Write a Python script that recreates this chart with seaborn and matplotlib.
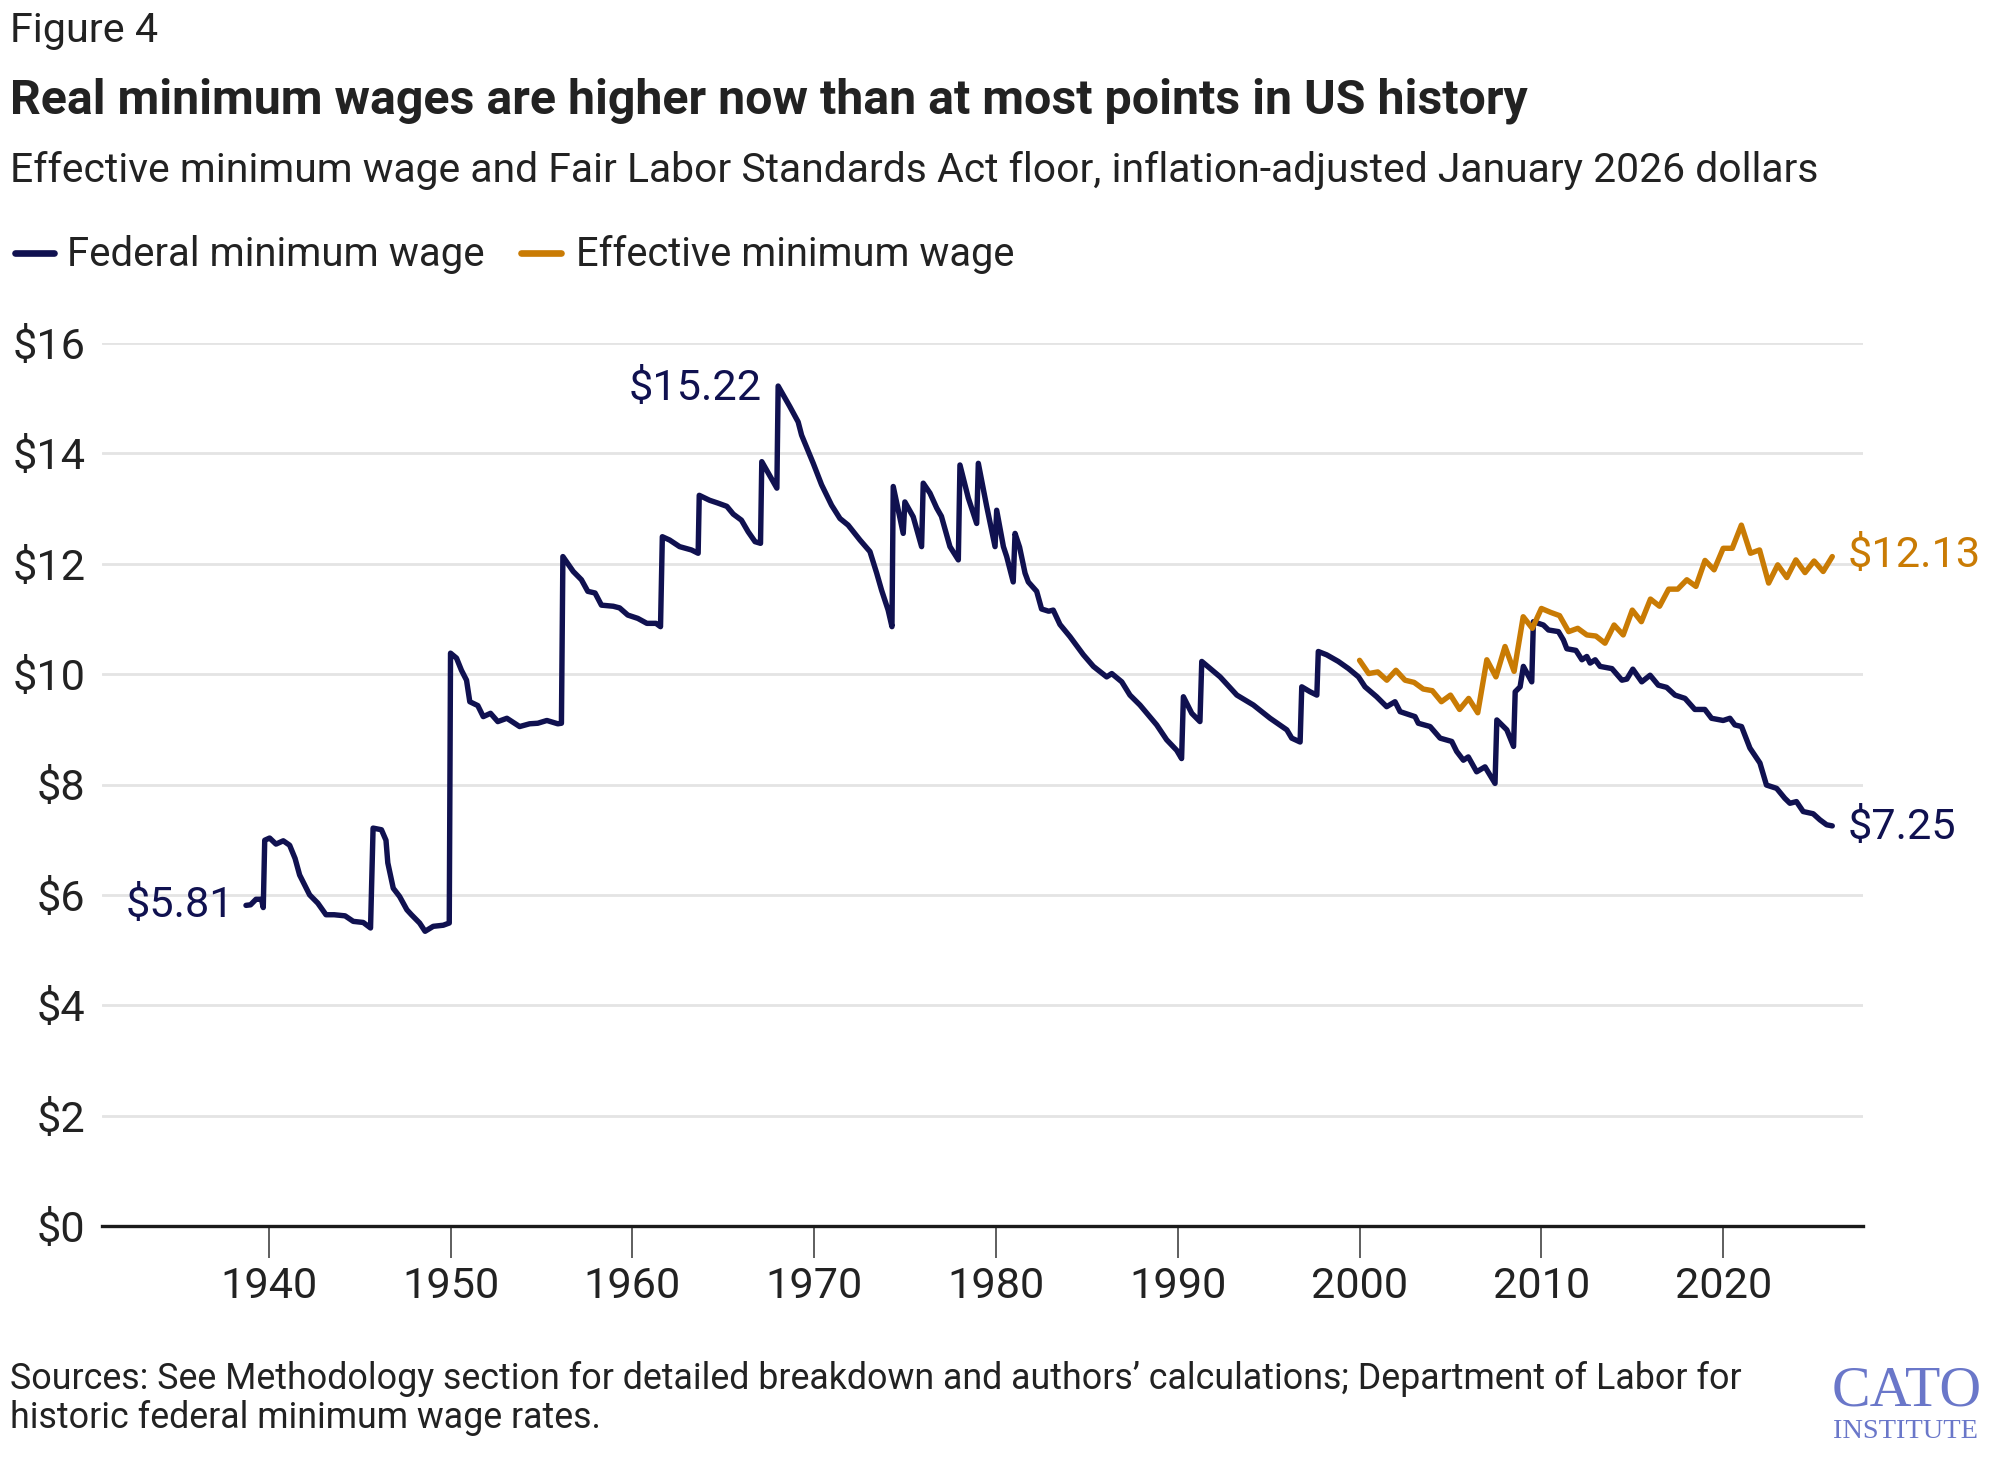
import matplotlib
matplotlib.use("Agg")
import matplotlib.pyplot as plt
from matplotlib.lines import Line2D
import seaborn as sns
import pandas as pd

# ---------------- data ----------------
fed_years = [
    1938.75, 1939.0, 1939.3, 1939.6, 1939.7, 1939.78, 1940.05, 1940.4, 1940.8, 1941.15,
    1941.45, 1941.7, 1942.25, 1942.7, 1943.15, 1943.6, 1944.2, 1944.65, 1945.2, 1945.6,
    1945.74, 1946.2, 1946.45, 1946.55, 1946.85, 1947.2, 1947.6, 1947.85, 1948.15, 1948.3,
    1948.6, 1949.05, 1949.6, 1949.93, 1950.0, 1950.33, 1950.6, 1950.88, 1951.06, 1951.5,
    1951.8, 1952.2, 1952.6, 1953.1, 1953.8, 1954.35, 1954.8, 1955.3, 1955.9, 1956.1,
    1956.18, 1956.75, 1957.2, 1957.55, 1957.95, 1958.3, 1958.95, 1959.3, 1959.75, 1960.3,
    1960.8, 1961.3, 1961.55, 1961.65, 1962.05, 1962.6, 1963.25, 1963.62, 1963.68, 1964.25,
    1964.7, 1965.2, 1965.55, 1966.0, 1966.37, 1966.75, 1967.05, 1967.12, 1967.95, 1968.02,
    1968.66, 1969.12, 1969.31, 1969.95, 1970.41, 1970.96, 1971.42, 1971.87, 1972.52, 1973.07,
    1973.44, 1973.71, 1974.07, 1974.28, 1974.35, 1974.90, 1974.99, 1975.45, 1975.91, 1976.0,
    1976.37, 1976.74, 1977.0, 1977.47, 1977.93, 1978.02, 1978.48, 1978.94, 1979.03, 1979.49,
    1979.95, 1980.04, 1980.41, 1980.59, 1980.95, 1981.05, 1981.3, 1981.6, 1981.78, 1982.24,
    1982.51, 1982.9, 1983.15, 1983.52, 1984.07, 1984.81, 1985.36, 1986.09, 1986.37, 1986.92,
    1987.37, 1987.92, 1988.84, 1989.39, 1989.94, 1990.21, 1990.31, 1990.77, 1991.22, 1991.32,
    1992.33, 1993.25, 1994.16, 1995.08, 1996.0, 1996.27, 1996.73, 1996.82, 1997.28, 1997.65,
    1997.73, 1998.19, 1998.83, 1999.39, 1999.94, 2000.30, 2000.94, 2001.49, 2001.95, 2002.23,
    2003.05, 2003.23, 2003.88, 2004.43, 2005.07, 2005.34, 2005.71, 2005.98, 2006.44, 2006.90,
    2007.45, 2007.55, 2008.10, 2008.47, 2008.56, 2008.83, 2009.01, 2009.47, 2009.56, 2010.11,
    2010.39, 2010.94, 2011.21, 2011.40, 2011.90, 2012.23, 2012.50, 2012.68, 2012.96, 2013.23,
    2013.88, 2014.43, 2014.70, 2015.03, 2015.52, 2015.98, 2016.43, 2016.89, 2017.35, 2017.90,
    2018.44, 2018.99, 2019.36, 2020.0, 2020.37, 2020.64, 2021.01, 2021.47, 2022.02, 2022.38,
    2022.94, 2023.39, 2023.67, 2024.03, 2024.40, 2024.95, 2025.32, 2025.69, 2026.0,
]
fed_values = [
    5.81, 5.82, 5.92, 5.92, 5.77, 6.99, 7.03, 6.92, 6.98, 6.90,
    6.66, 6.36, 6.00, 5.85, 5.64, 5.64, 5.62, 5.52, 5.50, 5.40,
    7.21, 7.18, 6.99, 6.58, 6.12, 5.97, 5.73, 5.64, 5.54, 5.49,
    5.34, 5.43, 5.45, 5.49, 10.38, 10.29, 10.07, 9.89, 9.50, 9.43,
    9.23, 9.29, 9.14, 9.20, 9.05, 9.10, 9.11, 9.16, 9.10, 9.11,
    12.13, 11.86, 11.71, 11.50, 11.47, 11.25, 11.23, 11.20, 11.07, 11.01,
    10.92, 10.92, 10.86, 12.49, 12.43, 12.31, 12.25, 12.19, 13.24, 13.15,
    13.10, 13.04, 12.90, 12.79, 12.58, 12.40, 12.37, 13.85, 13.37, 15.22,
    14.85, 14.57, 14.33, 13.82, 13.43, 13.06, 12.82, 12.70, 12.43, 12.22,
    11.83, 11.52, 11.16, 10.86, 13.40, 12.55, 13.12, 12.85, 12.31, 13.46,
    13.28, 13.01, 12.86, 12.31, 12.07, 13.79, 13.19, 12.73, 13.82, 13.04,
    12.31, 12.97, 12.31, 12.13, 11.67, 12.55, 12.30, 11.83, 11.67, 11.50,
    11.18, 11.14, 11.16, 10.90, 10.68, 10.35, 10.14, 9.95, 10.01, 9.86,
    9.62, 9.44, 9.08, 8.81, 8.62, 8.47, 9.59, 9.29, 9.14, 10.23,
    9.95, 9.62, 9.44, 9.20, 8.99, 8.84, 8.77, 9.77, 9.68, 9.62,
    10.41, 10.35, 10.23, 10.10, 9.95, 9.77, 9.59, 9.41, 9.50, 9.32,
    9.23, 9.11, 9.05, 8.84, 8.78, 8.60, 8.44, 8.50, 8.23, 8.32,
    8.02, 9.17, 8.99, 8.69, 9.68, 9.77, 10.14, 9.86, 10.95, 10.89,
    10.80, 10.77, 10.62, 10.46, 10.43, 10.26, 10.32, 10.20, 10.26, 10.14,
    10.10, 9.89, 9.91, 10.09, 9.86, 9.98, 9.80, 9.76, 9.62, 9.56,
    9.36, 9.36, 9.20, 9.16, 9.20, 9.08, 9.05, 8.66, 8.39, 7.99,
    7.93, 7.75, 7.66, 7.69, 7.51, 7.47, 7.36, 7.27, 7.25,
]
eff_years = [
    2000.0, 2000.5, 2001.0, 2001.5, 2002.0, 2002.5, 2003.0, 2003.5, 2004.0, 2004.5,
    2005.0, 2005.5, 2006.0, 2006.5, 2007.0, 2007.5, 2008.0, 2008.5, 2009.0, 2009.5,
    2010.0, 2010.5, 2011.0, 2011.5, 2012.0, 2012.5, 2013.0, 2013.5, 2014.0, 2014.5,
    2015.0, 2015.5, 2016.0, 2016.5, 2017.0, 2017.5, 2018.0, 2018.5, 2019.0, 2019.5,
    2020.0, 2020.5, 2021.0, 2021.5, 2022.0, 2022.5, 2023.0, 2023.5, 2024.0, 2024.5,
    2025.0, 2025.5, 2026.0,
]
eff_values = [
    10.25, 10.01, 10.04, 9.89, 10.07, 9.89, 9.85, 9.73, 9.70, 9.50,
    9.62, 9.36, 9.56, 9.30, 10.26, 9.95, 10.50, 10.05, 11.04, 10.83,
    11.19, 11.12, 11.06, 10.77, 10.83, 10.71, 10.69, 10.56, 10.89, 10.71,
    11.16, 10.95, 11.36, 11.23, 11.54, 11.54, 11.71, 11.59, 12.06, 11.89,
    12.28, 12.28, 12.70, 12.19, 12.25, 11.65, 11.98, 11.75, 12.07, 11.84,
    12.05, 11.86, 12.13,
]
series_names = ["Federal minimum wage", "Effective minimum wage"]
x_ticks = [1940, 1950, 1960, 1970, 1980, 1990, 2000, 2010, 2020]
y_ticks = [0, 2, 4, 6, 8, 10, 12, 14, 16]
y_tick_labels = ["$" + str(v) for v in y_ticks]
annotations = ["$5.81", "$15.22", "$12.13", "$7.25"]

NAVY = "#101150"
ORANGE = "#c97b04"
TEXT = "#222222"
GRID = "#e4e4e4"
LOGO = "#6a77c9"

df = pd.concat([
    pd.DataFrame({"year": fed_years, "wage": fed_values, "series": series_names[0]}),
    pd.DataFrame({"year": eff_years, "wage": eff_values, "series": series_names[1]}),
], ignore_index=True)

sns.set_theme(style="white")
FONT = "Roboto"
plt.rcParams["font.family"] = [FONT, "DejaVu Sans"]
plt.rcParams["text.color"] = TEXT

W, H = 1997, 1457
fig = plt.figure(figsize=(W / 100, H / 100), dpi=100)
renderer = fig.canvas.get_renderer()

def fx(px):
    return px / W

def fy(py):
    return 1 - py / H

def fit(t, target_w):
    w = t.get_window_extent(renderer).width
    t.set_fontsize(t.get_fontsize() * target_w / w)
    return t

# axes: left 102 px, right 1863 px, y=16 at 343 px, y=0 at 1226 px
ax = fig.add_axes([fx(102), fy(1226), fx(1863 - 102), (1226 - 343) / H])

sns.lineplot(data=df, x="year", y="wage", hue="series", hue_order=series_names,
             palette=[NAVY, ORANGE], estimator=None, sort=False, linewidth=3.9,
             legend=False, ax=ax, zorder=3)
for ln in ax.get_lines():
    ln.set_solid_joinstyle("round")
    ln.set_solid_capstyle("round")

ax.set_xlim(1930.83, 2027.69)
ax.set_ylim(0, 16)
ax.set_xlabel("")
ax.set_ylabel("")
ax.set_xticks(x_ticks)
ax.set_xticklabels([str(v) for v in x_ticks])
ax.set_yticks(y_ticks)
ax.set_yticklabels(y_tick_labels)
for v in y_ticks[1:]:
    ax.axhline(v, color=GRID, linewidth=2.0, zorder=1)
for s in ["top", "right", "left"]:
    ax.spines[s].set_visible(False)
ax.spines["bottom"].set_color("#1a1a1a")
ax.spines["bottom"].set_linewidth(2.4)
ax.spines["bottom"].set_zorder(4)
ax.grid(False)

# tick label sizing (target "1940" ~ 97 px wide)
probe = fig.text(0, 0, "1940", fontsize=30)
fit(probe, 97)
tick_fs = probe.get_fontsize()
probe.remove()
ax.tick_params(axis="x", bottom=True, length=23, width=1.1, color="#333333",
               direction="out", labelsize=tick_fs, labelcolor=TEXT, pad=5.5)
ax.tick_params(axis="y", left=False, labelsize=tick_fs, labelcolor=TEXT, pad=6)

# annotations (anchored to data points)
def sub(series):
    return df[df.series == series]

fed = sub(series_names[0])
eff = sub(series_names[1])
ann_fs = tick_fs
ax.annotate(annotations[0], (fed.year.iloc[0], fed.wage.iloc[0]), xytext=(-8.5, 0),
            textcoords="offset points", ha="right", va="center", color=NAVY, fontsize=ann_fs)
ipk = fed.wage.idxmax()
ax.annotate(annotations[1], (fed.year[ipk], fed.wage[ipk]), xytext=(-12, -1.5),
            textcoords="offset points", ha="right", va="center", color=NAVY, fontsize=ann_fs)
ax.annotate(annotations[2], (eff.year.iloc[-1], eff.wage.iloc[-1]), xytext=(11, 1),
            textcoords="offset points", ha="left", va="center", color=ORANGE,
            fontsize=ann_fs, annotation_clip=False)
ax.annotate(annotations[3], (fed.year.iloc[-1], fed.wage.iloc[-1]), xytext=(11, -1),
            textcoords="offset points", ha="left", va="center", color=NAVY,
            fontsize=ann_fs, annotation_clip=False)

# header texts
t = fig.text(fx(10), fy(31), "Figure 4", ha="left", va="center", fontsize=24, color=TEXT)
fit(t, 148)
t = fig.text(fx(10), fy(101), "Real minimum wages are higher now than at most points in US history",
             ha="left", va="center", fontsize=30, fontweight="bold", color=TEXT)
fit(t, 1514)
t = fig.text(fx(10), fy(171),
             "Effective minimum wage and Fair Labor Standards Act floor, inflation-adjusted January 2026 dollars",
             ha="left", va="center", fontsize=26, color=TEXT)
fit(t, 1811)

# legend
leg_y = 253
fig.add_artist(Line2D([fx(15), fx(54)], [fy(leg_y), fy(leg_y)], color=NAVY, linewidth=4.8,
                      solid_capstyle="round", transform=fig.transFigure))
t = fig.text(fx(67), fy(leg_y + 1), series_names[0], ha="left", va="center", fontsize=26, color=TEXT)
fit(t, 418)
fig.add_artist(Line2D([fx(521), fx(561)], [fy(leg_y), fy(leg_y)], color=ORANGE, linewidth=4.8,
                      solid_capstyle="round", transform=fig.transFigure))
t = fig.text(fx(576), fy(leg_y + 1), series_names[1], ha="left", va="center", fontsize=26, color=TEXT)
fit(t, 439)

# source note
t1 = fig.text(fx(10), fy(1379),
              "Sources: See Methodology section for detailed breakdown and authors\u2019 calculations; Department of Labor for",
              ha="left", va="center", fontsize=20, color=TEXT)
fit(t1, 1726)
fig.text(fx(10), fy(1418), "historic federal minimum wage rates.", ha="left", va="center",
         fontsize=t1.get_fontsize(), color=TEXT)

# logo
t = fig.text(fx(1907), fy(1391), "CATO", ha="center", va="center", fontsize=48,
             family="Liberation Serif", color=LOGO)
fit(t, 150)
t = fig.text(fx(1905), fy(1432), "INSTITUTE", ha="center", va="center", fontsize=14,
             family="Liberation Serif", color=LOGO)
fit(t, 146)

fig.savefig("out.png", dpi=100)
